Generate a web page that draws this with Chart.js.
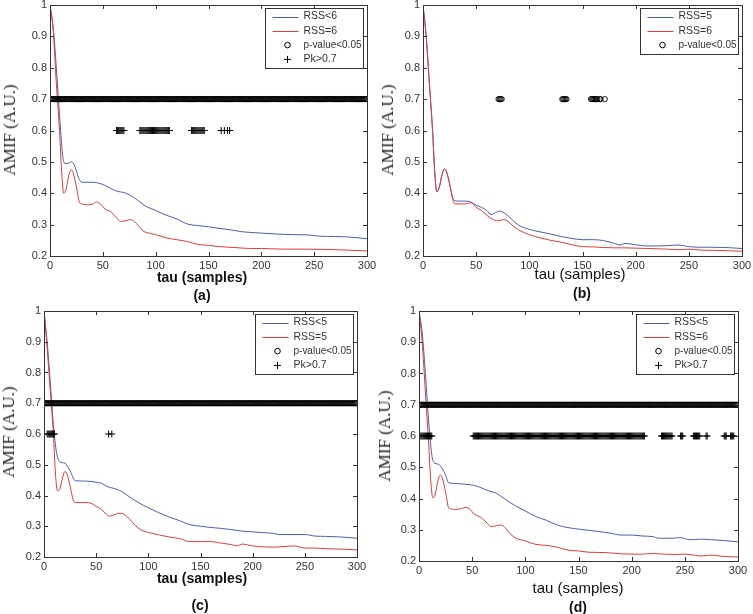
<!DOCTYPE html>
<html>
<head>
<meta charset="utf-8">
<script src="https://cdn.jsdelivr.net/npm/chart.js@4.4.1/dist/chart.umd.min.js"></script>
<style>
  html, body { margin: 0; padding: 0; background: #fff; overflow: hidden; }
  #wrap { position: relative; width: 753px; height: 614px; }
  #wrap canvas { position: absolute; }
  .lbl { position: absolute; transform: translate(-50%, -50%); white-space: nowrap; color: #111;
         font-family: 'Liberation Sans', Arial, sans-serif; }
  .ytitle { position: absolute; transform: translate(-50%, -50%) rotate(-90deg); white-space: nowrap;
            font-family: 'Liberation Serif', 'Times New Roman', serif; font-size: 17px; color: #222; }
</style>
</head>
<body>
<div id="wrap"></div>
<script>
/* ---------- data ---------- */
// (a) RSS<6 vs RSS=6
const tauA_blue  = [0, 3, 6, 9, 12, 14, 17, 20, 23, 27, 30, 40, 50, 55, 62, 72, 80, 90, 100, 110, 120, 130, 140, 150, 160, 170, 180, 190, 200, 215, 230, 245, 255, 270, 285, 300];
const amifA_blue = [1.0, 0.93, 0.8, 0.65, 0.52, 0.495, 0.495, 0.5, 0.49, 0.45, 0.435, 0.435, 0.428, 0.42, 0.408, 0.4, 0.385, 0.36, 0.345, 0.33, 0.318, 0.302, 0.297, 0.293, 0.288, 0.284, 0.278, 0.275, 0.273, 0.27, 0.268, 0.267, 0.263, 0.262, 0.26, 0.255];
const tauA_red   = [0, 3, 6, 9, 11, 13, 15, 18, 20, 22, 25, 28, 30, 35, 40, 44, 48, 52, 58, 62, 67, 72, 76, 80, 84, 88, 95, 100, 110, 120, 130, 140, 150, 160, 175, 190, 200, 220, 240, 260, 280, 300];
const amifA_red  = [1.0, 0.92, 0.75, 0.6, 0.47, 0.40, 0.41, 0.46, 0.475, 0.465, 0.42, 0.37, 0.366, 0.363, 0.365, 0.372, 0.365, 0.35, 0.34, 0.325, 0.31, 0.313, 0.316, 0.31, 0.295, 0.28, 0.272, 0.268, 0.258, 0.252, 0.246, 0.237, 0.234, 0.23, 0.227, 0.224, 0.224, 0.222, 0.222, 0.221, 0.219, 0.216];
const pvalRunsA  = [[0, 300]];
const pkRunsA    = [[63, 70], [85, 113], [134, 146], [162, 162], [165, 165], [168, 168], [170, 170]];

// (b) RSS=5 vs RSS=6
const tauB_blue  = [0, 3, 6, 9, 11, 13, 15, 18, 20, 22, 25, 28, 30, 35, 40, 45, 50, 55, 60, 64, 68, 72, 75, 80, 85, 90, 100, 110, 120, 130, 140, 150, 160, 170, 180, 185, 190, 200, 210, 220, 230, 240, 250, 260, 270, 285, 300];
const amifB_blue = [1.0, 0.9, 0.75, 0.6, 0.47, 0.405, 0.415, 0.46, 0.477, 0.47, 0.43, 0.385, 0.376, 0.375, 0.375, 0.372, 0.362, 0.355, 0.345, 0.332, 0.338, 0.343, 0.34, 0.328, 0.312, 0.298, 0.285, 0.277, 0.27, 0.262, 0.256, 0.252, 0.252, 0.249, 0.24, 0.235, 0.24, 0.236, 0.232, 0.232, 0.233, 0.235, 0.23, 0.228, 0.228, 0.227, 0.224];
const tauB_red   = [0, 3, 6, 9, 11, 13, 15, 18, 20, 22, 25, 28, 30, 40, 45, 50, 55, 60, 65, 70, 76, 80, 85, 90, 100, 110, 120, 130, 140, 150, 160, 170, 180, 190, 200, 210, 220, 230, 240, 250, 260, 275, 285, 300];
const amifB_red  = [1.0, 0.9, 0.75, 0.6, 0.47, 0.405, 0.415, 0.46, 0.477, 0.47, 0.43, 0.38, 0.366, 0.366, 0.37, 0.355, 0.345, 0.33, 0.318, 0.312, 0.316, 0.31, 0.295, 0.283, 0.268, 0.258, 0.25, 0.244, 0.236, 0.23, 0.229, 0.227, 0.226, 0.226, 0.225, 0.224, 0.223, 0.222, 0.22, 0.222, 0.219, 0.218, 0.217, 0.215];
const pvalRunsB  = [[71, 74], [131, 135], [158, 164], [166, 167], [171, 171]];
const pkRunsB    = [];

// (c) RSS<5 vs RSS=5
const tauC_blue  = [0, 3, 6, 9, 12, 15, 20, 25, 30, 40, 50, 55, 60, 70, 75, 80, 90, 100, 110, 120, 130, 140, 150, 160, 170, 180, 190, 200, 210, 220, 225, 240, 250, 260, 270, 285, 300];
const amifC_blue = [1.0, 0.9, 0.77, 0.63, 0.54, 0.51, 0.505, 0.48, 0.448, 0.447, 0.443, 0.44, 0.43, 0.42, 0.412, 0.4, 0.378, 0.36, 0.344, 0.33, 0.318, 0.305, 0.3, 0.296, 0.293, 0.289, 0.284, 0.282, 0.279, 0.277, 0.273, 0.273, 0.273, 0.268, 0.267, 0.265, 0.261];
const tauC_red   = [0, 3, 6, 9, 11, 13, 15, 18, 20, 22, 25, 28, 30, 40, 45, 50, 55, 60, 63, 67, 72, 76, 80, 85, 90, 95, 100, 110, 120, 130, 140, 150, 160, 170, 180, 185, 190, 200, 210, 220, 230, 240, 250, 260, 270, 280, 290, 300];
const amifC_red  = [1.0, 0.88, 0.74, 0.6, 0.47, 0.415, 0.42, 0.46, 0.478, 0.47, 0.43, 0.385, 0.377, 0.377, 0.375, 0.365, 0.355, 0.338, 0.333, 0.337, 0.342, 0.34, 0.33, 0.312, 0.295, 0.285, 0.28, 0.272, 0.265, 0.26, 0.25, 0.25, 0.25, 0.245, 0.24, 0.236, 0.242, 0.236, 0.233, 0.232, 0.234, 0.236, 0.229, 0.229, 0.227, 0.226, 0.225, 0.223];
const pvalRunsC  = [[0, 300]];
const pkRunsC    = [[3, 10], [62, 62], [65, 65]];

// (d) RSS<5 vs RSS=6
const tauD_blue  = [0, 3, 6, 9, 12, 14, 18, 22, 25, 28, 35, 45, 52, 58, 65, 72, 80, 90, 100, 110, 120, 130, 140, 150, 160, 170, 180, 190, 200, 210, 220, 225, 240, 245, 255, 265, 275, 285, 300];
const amifD_blue = [1.0, 0.93, 0.8, 0.65, 0.54, 0.515, 0.51, 0.495, 0.475, 0.45, 0.448, 0.445, 0.442, 0.435, 0.425, 0.418, 0.4, 0.378, 0.36, 0.342, 0.33, 0.315, 0.307, 0.302, 0.298, 0.294, 0.289, 0.283, 0.283, 0.28, 0.278, 0.273, 0.273, 0.275, 0.268, 0.27, 0.268, 0.266, 0.261];
const tauD_red   = [0, 3, 6, 9, 11, 13, 15, 18, 20, 22, 25, 28, 35, 40, 44, 48, 52, 58, 63, 68, 73, 77, 80, 85, 90, 100, 110, 120, 130, 140, 150, 160, 175, 190, 200, 210, 220, 230, 240, 250, 260, 265, 275, 285, 300];
const amifD_red  = [1.0, 0.9, 0.74, 0.58, 0.46, 0.402, 0.41, 0.46, 0.475, 0.465, 0.42, 0.37, 0.365, 0.368, 0.372, 0.365, 0.35, 0.34, 0.325, 0.31, 0.313, 0.315, 0.31, 0.29, 0.275, 0.264, 0.253, 0.25, 0.244, 0.235, 0.232, 0.228, 0.227, 0.223, 0.222, 0.222, 0.224, 0.222, 0.221, 0.222, 0.218, 0.216, 0.219, 0.215, 0.213];
const pvalRunsD  = [[0, 300]];
const pkRunsD    = [[1, 12], [51, 212], [228, 238], [246, 248], [258, 264], [270, 271], [287, 289], [293, 296]];

const xTicks = [0, 50, 100, 150, 200, 250, 300];
const yTicks = [0.2, 0.3, 0.4, 0.5, 0.6, 0.7, 0.8, 0.9, 1];
const PVAL_LEVEL = 0.7, PK_LEVEL = 0.6;

/* ---------- helpers ---------- */
const BLUE = '#4b5db3', RED = '#e23a3a', INK = '#333';
const FONT = "'Liberation Sans', Arial, sans-serif";

const pairs = (xs, ys) => xs.map((x, i) => ({ x, y: ys[i] }));
const expandRuns = (runs, level) => runs.flatMap(([a, b]) => {
  const out = [];
  for (let t = a; t <= b; t++) out.push({ x: t, y: level });
  return out;
});

// box around plot + inward ticks on all four sides (matlab look)
const framePlugin = {
  id: 'frame',
  afterDatasetsDraw(chart) {
    const { ctx, chartArea: a, scales: { x, y } } = chart;
    ctx.save();
    ctx.strokeStyle = INK;
    ctx.lineWidth = 1;
    ctx.strokeRect(Math.round(a.left) + 0.5, Math.round(a.top) + 0.5, Math.round(a.right - a.left), Math.round(a.bottom - a.top));
    ctx.beginPath();
    xTicks.forEach(v => {
      const px = Math.round(x.getPixelForValue(v)) + 0.5;
      ctx.moveTo(px, a.bottom); ctx.lineTo(px, a.bottom - 4);
      ctx.moveTo(px, a.top); ctx.lineTo(px, a.top + 4);
    });
    yTicks.forEach(v => {
      const py = Math.round(y.getPixelForValue(v)) + 0.5;
      ctx.moveTo(a.left, py); ctx.lineTo(a.left + 4, py);
      ctx.moveTo(a.right, py); ctx.lineTo(a.right - 4, py);
    });
    ctx.stroke();
    ctx.restore();
  }
};

// legend box in the top right corner of the plot
const boxLegendPlugin = {
  id: 'boxLegend',
  afterDraw(chart) {
    const { ctx, chartArea: a } = chart;
    const items = chart.data.datasets.filter(d => d.label);
    const w = 98, rowH = 14.3;
    const left = Math.round(a.right - 4 - w) + 0.5, top = Math.round(a.top + 3) + 0.5;
    const h = Math.round(items.length * rowH + 3);
    ctx.save();
    ctx.fillStyle = '#fff';
    ctx.fillRect(left, top, w, h);
    ctx.strokeStyle = INK;
    ctx.lineWidth = 1;
    ctx.strokeRect(left, top, w, h);
    ctx.font = '10.5px ' + FONT;
    ctx.textBaseline = 'middle';
    items.forEach((d, i) => {
      const cy = top + 8 + i * rowH;
      if (d.showLine !== false) {
        ctx.strokeStyle = d.borderColor; ctx.lineWidth = 1;
        ctx.beginPath(); ctx.moveTo(left + 7, Math.round(cy) + 0.5); ctx.lineTo(left + 33, Math.round(cy) + 0.5); ctx.stroke();
      } else if (d.pointStyle === 'circle') {
        ctx.strokeStyle = '#000'; ctx.lineWidth = 1;
        ctx.beginPath(); ctx.arc(left + 22, cy, 2.8, 0, Math.PI * 2); ctx.stroke();
      } else {
        ctx.strokeStyle = '#000'; ctx.lineWidth = 1;
        ctx.beginPath();
        ctx.moveTo(left + 18.5, cy); ctx.lineTo(left + 25.5, cy);
        ctx.moveTo(left + 22, cy - 3.5); ctx.lineTo(left + 22, cy + 3.5);
        ctx.stroke();
      }
      ctx.fillStyle = INK;
      ctx.fillText(d.label, left + 38, cy, w - 40);
    });
    ctx.restore();
  }
};

/* ---------- panels ---------- */
const panels = [
  { key: 'a', plot: [50, 5, 367, 256], labels: ['RSS<6', 'RSS=6'],
    blue: pairs(tauA_blue, amifA_blue), red: pairs(tauA_red, amifA_red), pval: pvalRunsA, pk: pkRunsA,
    ytitle: [10, 130], xtitle: [202, 277, 'bold 14px'], tag: [202, 295] },
  { key: 'b', plot: [423, 5, 742, 256], labels: ['RSS=5', 'RSS=6'],
    blue: pairs(tauB_blue, amifB_blue), red: pairs(tauB_red, amifB_red), pval: pvalRunsB, pk: pkRunsB,
    ytitle: [388, 130], xtitle: [580, 273, '15px'], tag: [582, 293] },
  { key: 'c', plot: [44, 311, 357, 557], labels: ['RSS<5', 'RSS=5'],
    blue: pairs(tauC_blue, amifC_blue), red: pairs(tauC_red, amifC_red), pval: pvalRunsC, pk: pkRunsC,
    ytitle: [9, 432], xtitle: [202, 578, 'bold 14px'], tag: [200, 605] },
  { key: 'd', plot: [419, 311, 738, 561], labels: ['RSS<5', 'RSS=6'],
    blue: pairs(tauD_blue, amifD_blue), red: pairs(tauD_red, amifD_red), pval: pvalRunsD, pk: pkRunsD,
    ytitle: [385, 436], xtitle: [578, 587, '15px'], tag: [578, 607] },
];

const wrap = document.getElementById('wrap');
const PAD_L = 60, PAD_T = 20, PAD_R = 30, PAD_B = 40;

function addText(cls, x, y, text, font) {
  const el = document.createElement('div');
  el.className = cls;
  el.style.left = x + 'px';
  el.style.top = y + 'px';
  if (font) el.style.font = font + ' ' + FONT;
  el.textContent = text;
  wrap.appendChild(el);
}

const noGrid = { display: false, drawTicks: false, tickLength: 0 };

panels.forEach(p => {
  const [L, T, R, B] = p.plot;
  const canvas = document.createElement('canvas');
  canvas.width = R - L + PAD_L + PAD_R;
  canvas.height = B - T + PAD_T + PAD_B;
  canvas.style.left = (L - PAD_L) + 'px';
  canvas.style.top = (T - PAD_T) + 'px';
  wrap.appendChild(canvas);

  const datasets = [
    { label: p.labels[0], data: p.blue, borderColor: BLUE, borderWidth: 1, pointRadius: 0, cubicInterpolationMode: 'monotone', order: 2 },
    { label: p.labels[1], data: p.red, borderColor: RED, borderWidth: 1, pointRadius: 0, cubicInterpolationMode: 'monotone', order: 1 },
    { label: 'p-value<0.05', data: expandRuns(p.pval, PVAL_LEVEL), showLine: false, pointStyle: 'circle', pointRadius: 2.6,
      pointBorderWidth: 0.9, pointBorderColor: '#000', pointBackgroundColor: 'rgba(255,255,255,0)', order: 0 },
  ];
  if (p.pk.length) {
    datasets.push({ label: 'Pk>0.7', data: expandRuns(p.pk, PK_LEVEL), showLine: false, pointStyle: 'cross', pointRadius: 3.5,
      pointBorderWidth: 1, pointBorderColor: '#000', order: 0 });
  }

  new Chart(canvas.getContext('2d'), {
    type: 'line',
    data: { datasets },
    options: {
      responsive: false, animation: false, events: [],
      layout: { padding: { top: PAD_T, right: PAD_R, left: 0, bottom: 0 } },
      plugins: { legend: { display: false }, tooltip: { enabled: false } },
      scales: {
        x: {
          type: 'linear', min: 0, max: 300,
          afterFit: s => { s.height = PAD_B; },
          afterBuildTicks: s => { s.ticks = xTicks.map(v => ({ value: v })); },
          grid: noGrid, border: { display: false },
          ticks: { color: INK, padding: 3, maxRotation: 0, font: { family: FONT, size: 11 } },
        },
        y: {
          type: 'linear', min: 0.2, max: 1,
          afterFit: s => { s.width = PAD_L; },
          afterBuildTicks: s => { s.ticks = yTicks.map(v => ({ value: v })); },
          grid: noGrid, border: { display: false },
          ticks: { color: INK, padding: 3, font: { family: FONT, size: 11 }, callback: v => String(+v.toFixed(1)) },
        },
      },
    },
    plugins: [framePlugin, boxLegendPlugin],
  });

  addText('ytitle', p.ytitle[0], p.ytitle[1], 'AMIF (A.U.)');
  addText('lbl', p.xtitle[0], p.xtitle[1], 'tau (samples)', p.xtitle[2]);
  addText('lbl', p.tag[0], p.tag[1], '(' + p.key + ')', 'bold 14px');
});
</script>
</body>
</html>
